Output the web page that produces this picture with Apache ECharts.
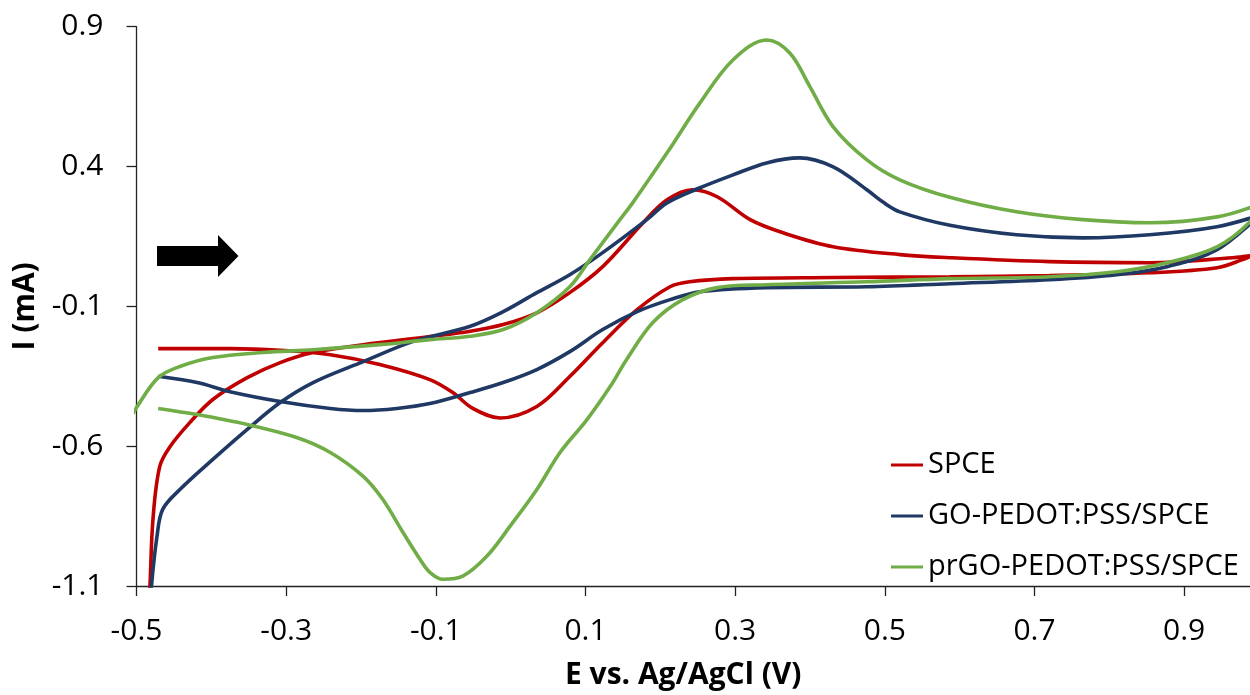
<!DOCTYPE html>
<html>
<head>
<meta charset="utf-8">
<script src="https://cdn.jsdelivr.net/npm/echarts@6/dist/echarts.min.js"></script>
<style>
html,body{margin:0;padding:0;background:#fff;}
#chart{width:1250px;height:695px;}
</style>
</head>
<body>
<div id="chart"></div>
<script>
// Series names
var seriesNames = ['SPCE', 'GO-PEDOT:PSS/SPCE', 'prGO-PEDOT:PSS/SPCE'];

// Tick labels
var xTicks = [-0.5, -0.3, -0.1, 0.1, 0.3, 0.5, 0.7, 0.9];
var yTicks = [-1.1, -0.6, -0.1, 0.4, 0.9];

// SPCE (red) : potential E (V) and current I (mA), in scan order
var spceE = [-0.471,-0.375,-0.308,-0.241,-0.175,-0.108,-0.077,-0.050,-0.014,0.035,0.079,0.123,0.169,0.213,0.239,0.297,0.431,0.587,0.720,0.854,0.944,0.978,0.990,0.965,0.854,0.720,0.587,0.520,0.431,0.364,0.320,0.276,0.243,0.209,0.177,0.123,0.079,0.035,-0.010,-0.054,-0.108,-0.197,-0.264,-0.308,-0.352,-0.398,-0.4285,-0.455,-0.469,-0.478,-0.482,-0.484];
var spceI = [-0.251,-0.251,-0.257,-0.273,-0.308,-0.362,-0.409,-0.466,-0.499,-0.458,-0.351,-0.230,-0.112,-0.030,-0.012,-0.001,0.003,0.006,0.010,0.020,0.038,0.067,0.081,0.074,0.056,0.060,0.074,0.085,0.113,0.163,0.210,0.292,0.317,0.281,0.199,0.042,-0.051,-0.123,-0.165,-0.189,-0.208,-0.237,-0.265,-0.301,-0.355,-0.433,-0.515,-0.601,-0.673,-0.862,-1.1,-1.2];

// GO-PEDOT:PSS/SPCE (blue)
var goE = [-0.471,-0.419,-0.375,-0.308,-0.241,-0.197,-0.152,-0.108,-0.054,-0.010,0.035,0.079,0.123,0.169,0.213,0.253,0.342,0.476,0.587,0.720,0.810,0.877,0.944,1.0,0.944,0.854,0.7645,0.676,0.587,0.520,0.498,0.476,0.431,0.386,0.342,0.297,0.253,0.209,0.182,0.123,0.079,0.035,-0.010,-0.054,-0.131,-0.197,-0.264,-0.308,-0.352,-0.398,-0.442,-0.465,-0.4726,-0.480,-0.482];
var goI = [-0.350,-0.3725,-0.405,-0.440,-0.465,-0.4725,-0.465,-0.4475,-0.408,-0.3725,-0.326,-0.262,-0.183,-0.119,-0.076,-0.0475,-0.033,-0.030,-0.019,-0.005,0.013,0.042,0.1025,0.225,0.185,0.156,0.145,0.156,0.190,0.238,0.272,0.317,0.399,0.431,0.413,0.370,0.324,0.270,0.210,0.092,0.013,-0.051,-0.119,-0.171,-0.226,-0.2975,-0.3725,-0.444,-0.540,-0.6475,-0.755,-0.826,-0.9225,-1.1,-1.2];

// prGO-PEDOT:PSS/SPCE (green)
var prgoE = [-0.471,-0.419,-0.352,-0.286,-0.241,-0.197,-0.171,-0.144,-0.121,-0.108,-0.0905,-0.064,-0.032,-0.001,0.035,0.066,0.102,0.133,0.155,0.190,0.230,0.276,0.342,0.476,0.587,0.720,0.810,0.877,0.944,0.988,1.0,0.944,0.854,0.7645,0.676,0.587,0.520,0.476,0.431,0.400,0.373,0.342,0.297,0.253,0.209,0.163,0.146,0.106,0.079,0.035,-0.010,-0.054,-0.108,-0.175,-0.264,-0.331,-0.398,-0.442,-0.471,-0.5,-0.51];
var prgoI = [-0.465,-0.487,-0.5225,-0.569,-0.6225,-0.708,-0.790,-0.908,-1.005,-1.051,-1.076,-1.065,-0.994,-0.887,-0.755,-0.6225,-0.505,-0.387,-0.290,-0.158,-0.076,-0.033,-0.0225,-0.012,-0.001,0.006,0.024,0.056,0.113,0.2025,0.265,0.220,0.199,0.210,0.238,0.290,0.3525,0.424,0.542,0.685,0.806,0.8525,0.781,0.6275,0.449,0.270,0.210,0.067,-0.030,-0.1225,-0.183,-0.207,-0.219,-0.237,-0.255,-0.265,-0.283,-0.315,-0.355,-0.462,-0.51];

var colors = ['#C00000', '#1F3864', '#70AD47'];

function zip(a, b) { var r = []; for (var i = 0; i < a.length; i++) r.push([a[i], b[i]]); return r; }
var allData = [zip(spceE, spceI), zip(goE, goI), zip(prgoE, prgoI)];

var FONT = '"Open Sans", "Noto Sans", sans-serif';

var chart = echarts.init(document.getElementById('chart'), null, {renderer: 'canvas'});
var option = {
  animation: false,
  backgroundColor: '#ffffff',
  grid: {left: 136.5, right: 0, top: 26.7, bottom: 108.3, containLabel: false},
  xAxis: {
    type: 'value', min: -0.5, max: 0.988,
    name: 'E vs. Ag/AgCl (V)', nameLocation: 'middle', nameGap: 74,
    nameTextStyle: {fontFamily: FONT, fontSize: 30, fontWeight: 'bold', color: '#000', padding: [0, 20, 0, 0]},
    axisLine: {show: true, onZero: false, lineStyle: {color: '#222', width: 1.3}},
    axisTick: {show: true, inside: false, length: 10, customValues: xTicks, lineStyle: {color: '#222', width: 1.3}},
    axisLabel: {customValues: xTicks, margin: 30, fontFamily: FONT, fontSize: 30, color: '#000',
      formatter: function (v) { return String(v); }},
    splitLine: {show: false}
  },
  yAxis: {
    type: 'value', min: -1.1, max: 0.9,
    name: 'I (mA)', nameLocation: 'middle', nameGap: 85, nameRotate: 90,
    nameTextStyle: {fontFamily: FONT, fontSize: 30, fontWeight: 'bold', color: '#000'},
    axisLine: {show: true, onZero: false, lineStyle: {color: '#222', width: 1.3}},
    axisTick: {show: true, inside: false, length: 10, customValues: yTicks, lineStyle: {color: '#222', width: 1.3}},
    axisLabel: {customValues: yTicks, margin: 33, fontFamily: FONT, fontSize: 30, color: '#000',
      formatter: function (v) { return String(v); }},
    splitLine: {show: false}
  },
  legend: {
    show: true, orient: 'vertical', left: 886, top: 443,
    itemWidth: 32, itemHeight: 14, itemGap: 17,
    textStyle: {fontFamily: FONT, fontSize: 29, color: '#000', lineHeight: 34},
    data: seriesNames.map(function (n) { return {name: n, icon: 'path://M0,6 L32,6 L32,9 L0,9 Z'}; })
  },
  graphic: [{
    type: 'polygon',
    shape: {points: [[157, 246], [218, 246], [218, 235], [238.5, 256], [218, 277], [218, 266], [157, 266]]},
    style: {fill: '#000'}
  }],
  series: seriesNames.map(function (n, i) {
    return {
      name: n, type: 'line', data: allData[i], smooth: 0.35, symbol: 'none',
      clip: true, z: 3 + i,
      lineStyle: {color: colors[i], width: 3.6},
      itemStyle: {color: colors[i]}
    };
  })
};
chart.setOption(option);
</script>
</body>
</html>
